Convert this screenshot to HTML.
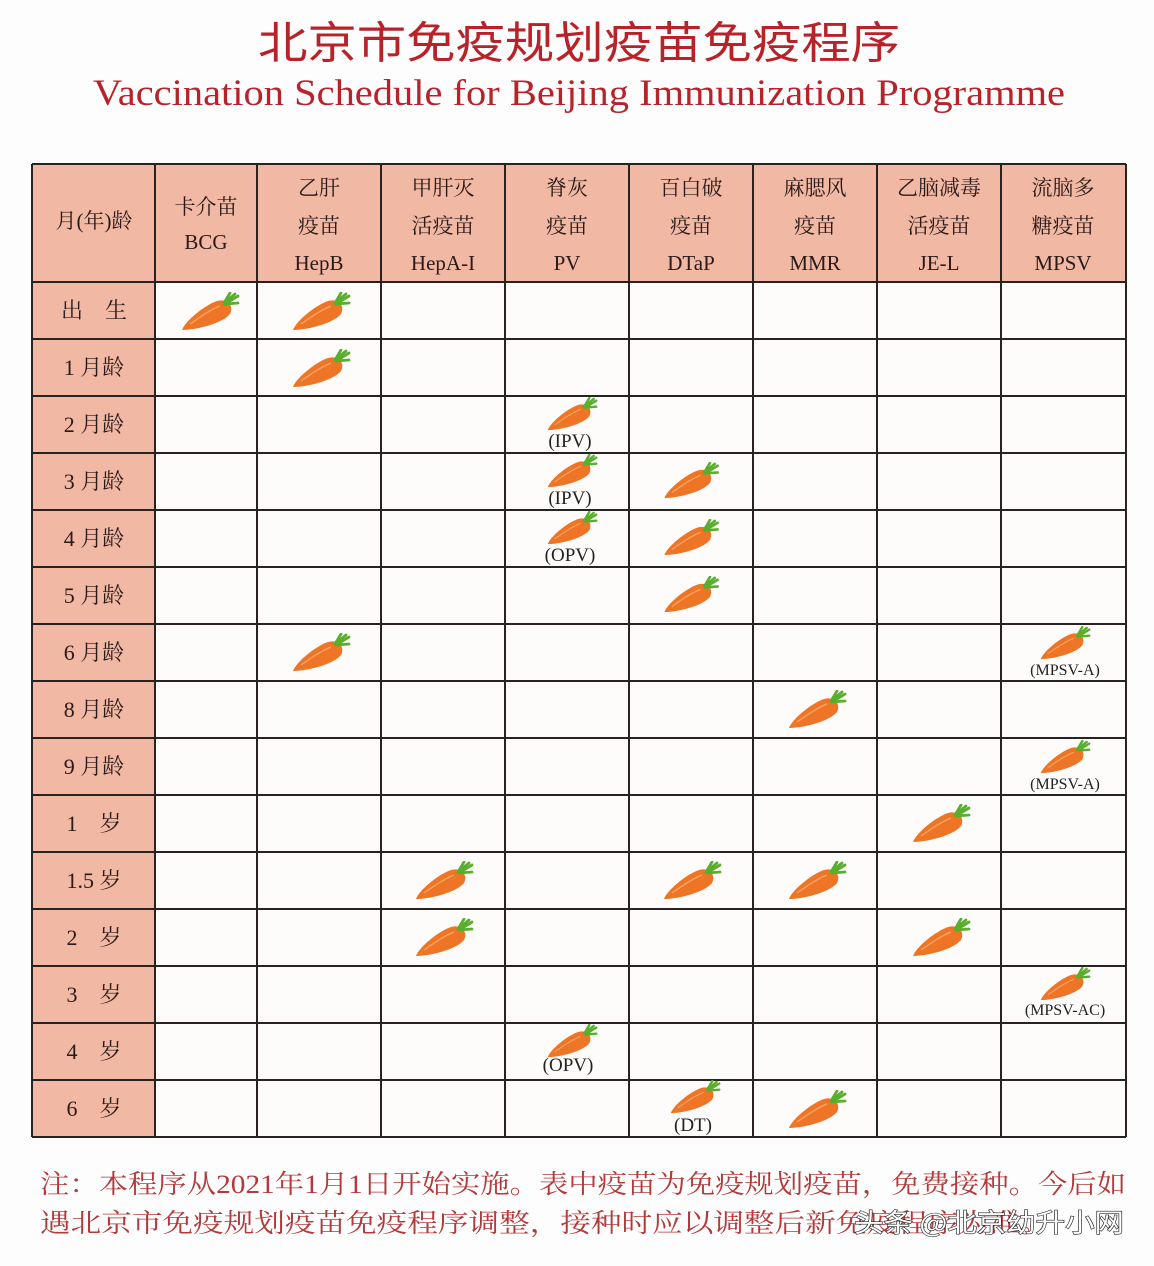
<!DOCTYPE html>
<html><head><meta charset="utf-8"><style>
html,body{margin:0;padding:0;background:#fdfdfd;}
svg{display:block}
.h{font-family:"Liberation Serif","Noto Serif CJK SC",serif;font-size:21px;fill:#2a1a1a;text-anchor:middle}
.r{font-family:"Liberation Serif","Noto Serif CJK SC",serif;font-size:22px;fill:#2a1a1a;text-anchor:middle}
.l{font-family:"Liberation Serif",serif;font-size:19px;fill:#222;text-anchor:middle}
.ls{font-family:"Liberation Serif",serif;font-size:16px;fill:#222;text-anchor:middle}
</style></head><body>
<svg width="1154" height="1266" viewBox="0 0 1154 1266" xmlns="http://www.w3.org/2000/svg">
<defs>
<symbol id="c" viewBox="0 0 60 40">
<path d="M2,38 C5,29 25,13 37,9 C48,6 54,14 50,22 C43,31 17,38 2,38Z" fill="#ee7426"/>
<path d="M10,32 C20,25 30,18 40,14" stroke="#f6a060" stroke-width="1.5" fill="none"/>
<g stroke="#5aae2e" stroke-width="2.8" stroke-linecap="round" fill="none">
<path d="M45,12 L58,4"/><path d="M45,12 L58,11"/><path d="M44,11 L50,1"/><path d="M44,11 L55,2"/>
</g>
</symbol>
</defs>
<text x="579" y="58" text-anchor="middle" font-family="'Noto Sans CJK SC',sans-serif" font-size="44" fill="#b8232a" textLength="642" lengthAdjust="spacingAndGlyphs">北京市免疫规划疫苗免疫程序</text>
<text x="579" y="105" text-anchor="middle" font-family="'Liberation Serif',serif" font-size="37" fill="#b8232a" textLength="972" lengthAdjust="spacingAndGlyphs">Vaccination Schedule for Beijing Immunization Programme</text>
<rect x="32" y="164" width="1094" height="118" fill="#f1b8a3"/>
<rect x="32" y="282" width="123" height="855" fill="#f1b8a3"/>
<rect x="155" y="282" width="971" height="855" fill="#fdfcfb"/>
<g stroke="#2a2222" stroke-width="2">
<line x1="32" y1="164" x2="1126" y2="164"/>
<line x1="32" y1="282" x2="1126" y2="282"/>
<line x1="32" y1="339" x2="1126" y2="339"/>
<line x1="32" y1="396" x2="1126" y2="396"/>
<line x1="32" y1="453" x2="1126" y2="453"/>
<line x1="32" y1="510" x2="1126" y2="510"/>
<line x1="32" y1="567" x2="1126" y2="567"/>
<line x1="32" y1="624" x2="1126" y2="624"/>
<line x1="32" y1="681" x2="1126" y2="681"/>
<line x1="32" y1="738" x2="1126" y2="738"/>
<line x1="32" y1="795" x2="1126" y2="795"/>
<line x1="32" y1="852" x2="1126" y2="852"/>
<line x1="32" y1="909" x2="1126" y2="909"/>
<line x1="32" y1="966" x2="1126" y2="966"/>
<line x1="32" y1="1023" x2="1126" y2="1023"/>
<line x1="32" y1="1080" x2="1126" y2="1080"/>
<line x1="32" y1="1137" x2="1126" y2="1137"/>
<line x1="32" y1="164" x2="32" y2="1137"/>
<line x1="155" y1="164" x2="155" y2="1137"/>
<line x1="257" y1="164" x2="257" y2="1137"/>
<line x1="381" y1="164" x2="381" y2="1137"/>
<line x1="505" y1="164" x2="505" y2="1137"/>
<line x1="629" y1="164" x2="629" y2="1137"/>
<line x1="753" y1="164" x2="753" y2="1137"/>
<line x1="877" y1="164" x2="877" y2="1137"/>
<line x1="1001" y1="164" x2="1001" y2="1137"/>
<line x1="1126" y1="164" x2="1126" y2="1137"/>
</g>
<text class="h" x="94" y="228">月(年)龄</text>
<text class="h" x="206" y="214">卡介苗</text><text class="h" x="206" y="249">BCG</text>
<text class="h" x="319" y="195">乙肝</text><text class="h" x="319" y="233">疫苗</text><text class="h" x="319" y="270">HepB</text>
<text class="h" x="443" y="195">甲肝灭</text><text class="h" x="443" y="233">活疫苗</text><text class="h" x="443" y="270">HepA-I</text>
<text class="h" x="567" y="195">脊灰</text><text class="h" x="567" y="233">疫苗</text><text class="h" x="567" y="270">PV</text>
<text class="h" x="691" y="195">百白破</text><text class="h" x="691" y="233">疫苗</text><text class="h" x="691" y="270">DTaP</text>
<text class="h" x="815" y="195">麻腮风</text><text class="h" x="815" y="233">疫苗</text><text class="h" x="815" y="270">MMR</text>
<text class="h" x="939" y="195">乙脑减毒</text><text class="h" x="939" y="233">活疫苗</text><text class="h" x="939" y="270">JE-L</text>
<text class="h" x="1063" y="195">流脑多</text><text class="h" x="1063" y="233">糖疫苗</text><text class="h" x="1063" y="270">MPSV</text>
<text class="r" x="94" y="318">出　生</text>
<text class="r" x="94" y="375">1 月龄</text>
<text class="r" x="94" y="432">2 月龄</text>
<text class="r" x="94" y="489">3 月龄</text>
<text class="r" x="94" y="546">4 月龄</text>
<text class="r" x="94" y="603">5 月龄</text>
<text class="r" x="94" y="660">6 月龄</text>
<text class="r" x="94" y="717">8 月龄</text>
<text class="r" x="94" y="774">9 月龄</text>
<text class="r" x="94" y="831">1　岁</text>
<text class="r" x="94" y="888">1.5 岁</text>
<text class="r" x="94" y="945">2　岁</text>
<text class="r" x="94" y="1002">3　岁</text>
<text class="r" x="94" y="1059">4　岁</text>
<text class="r" x="94" y="1116">6　岁</text>
<use href="#c" x="180" y="292" width="60" height="40"/>
<use href="#c" x="291" y="292" width="60" height="40"/>
<use href="#c" x="291" y="349" width="60" height="40"/>
<use href="#c" x="662" y="576" width="58" height="38"/>
<use href="#c" x="662" y="519" width="58" height="38"/>
<use href="#c" x="662" y="462" width="58" height="38"/>
<use href="#c" x="291" y="633" width="60" height="40"/>
<use href="#c" x="787" y="690" width="60" height="40"/>
<use href="#c" x="911" y="804" width="60" height="40"/>
<use href="#c" x="414" y="861" width="60" height="40"/>
<use href="#c" x="662" y="861" width="60" height="40"/>
<use href="#c" x="787" y="861" width="60" height="40"/>
<use href="#c" x="414" y="918" width="60" height="40"/>
<use href="#c" x="911" y="918" width="60" height="40"/>
<use href="#c" x="787" y="1090" width="60" height="40"/>
<use href="#c" x="546" y="397" width="52" height="35"/><text class="l" x="570" y="447">(IPV)</text>
<use href="#c" x="546" y="454" width="52" height="35"/><text class="l" x="570" y="504">(IPV)</text>
<use href="#c" x="546" y="511" width="52" height="35"/><text class="l" x="570" y="561">(OPV)</text>
<use href="#c" x="546" y="1024" width="52" height="35"/><text class="l" x="568" y="1071">(OPV)</text>
<use href="#c" x="669" y="1080" width="52" height="35"/><text class="l" x="693" y="1131">(DT)</text>
<use href="#c" x="1039" y="626" width="52" height="35"/><text class="ls" x="1065" y="675">(MPSV-A)</text>
<use href="#c" x="1039" y="740" width="52" height="35"/><text class="ls" x="1065" y="789">(MPSV-A)</text>
<use href="#c" x="1039" y="967" width="52" height="35"/><text class="ls" x="1065" y="1015">(MPSV-AC)</text>
<text x="40" y="1193" font-family="'Liberation Serif','Noto Serif CJK SC',serif" font-size="26" fill="#b33a3a" textLength="1086" lengthAdjust="spacingAndGlyphs">注：本程序从2021年1月1日开始实施。表中疫苗为免疫规划疫苗，免费接种。今后如</text>
<text x="40" y="1232" font-family="'Noto Serif CJK SC',serif" font-size="26" fill="#b33a3a" textLength="1010" lengthAdjust="spacingAndGlyphs">遇北京市免疫规划疫苗免疫程序调整，接种时应以调整后新免疫程序为准。</text>
<text x="854" y="1232" font-family="'Noto Sans CJK SC',sans-serif" font-size="26" fill="#ffffff" stroke="#222" stroke-width="1.2" paint-order="stroke" textLength="270" lengthAdjust="spacingAndGlyphs">头条 @北京幼升小网</text>
</svg>
</body></html>
